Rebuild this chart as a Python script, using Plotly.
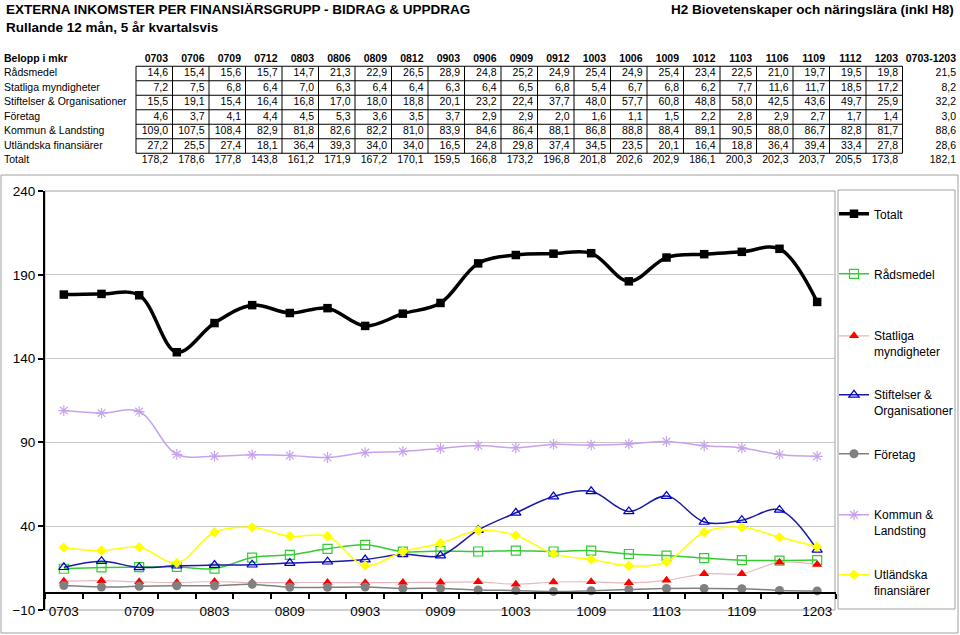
import plotly.graph_objects as go

# ---------------- data ----------------
periods = ["0703", "0706", "0709", "0712", "0803", "0806", "0809", "0812", "0903", "0906", "0909",
           "0912", "1003", "1006", "1009", "1012", "1103", "1106", "1109", "1112", "1203"]
period_total_label = "0703-1203"

radsmedel = [14.6, 15.4, 15.6, 15.7, 14.7, 21.3, 22.9, 26.5, 28.9, 24.8, 25.2, 24.9, 25.4, 24.9, 25.4, 23.4, 22.5, 21.0, 19.7, 19.5, 19.8]
statliga = [7.2, 7.5, 6.8, 6.4, 7.0, 6.3, 6.4, 6.4, 6.3, 6.4, 6.5, 6.8, 5.4, 6.7, 6.8, 6.2, 7.7, 11.6, 11.7, 18.5, 17.2]
stiftelser = [15.5, 19.1, 15.4, 16.4, 16.8, 17.0, 18.0, 18.8, 20.1, 23.2, 22.4, 37.7, 48.0, 57.7, 60.8, 48.8, 58.0, 42.5, 43.6, 49.7, 25.9]
foretag = [4.6, 3.7, 4.1, 4.4, 4.5, 5.3, 3.6, 3.5, 3.7, 2.9, 2.9, 2.0, 1.6, 1.1, 1.5, 2.2, 2.8, 2.9, 2.7, 1.7, 1.4]
kommun = [109.0, 107.5, 108.4, 82.9, 81.8, 82.6, 82.2, 81.0, 83.9, 84.6, 86.4, 88.1, 86.8, 88.8, 88.4, 89.1, 90.5, 88.0, 86.7, 82.8, 81.7]
utlandska = [27.2, 25.5, 27.4, 18.1, 36.4, 39.3, 34.0, 34.0, 16.5, 24.8, 29.8, 37.4, 34.5, 23.5, 20.1, 16.4, 18.8, 36.4, 39.4, 33.4, 27.8]
totalt = [178.2, 178.6, 177.8, 143.8, 161.2, 171.9, 167.2, 170.1, 159.5, 166.8, 173.2, 196.8, 201.8, 202.6, 202.9, 186.1, 200.3, 202.3, 203.7, 205.5, 173.8]

# averages over the whole period (last table column)
period_avg = [21.5, 8.2, 32.2, 3.0, 88.6, 28.6, 182.1]

row_names = ["Rådsmedel", "Statliga myndigheter", "Stiftelser & Organisationer", "Företag",
             "Kommun & Landsting", "Utländska finansiärer", "Totalt"]
legend_names = ["Totalt", "Rådsmedel", "Statliga<br>myndigheter", "Stiftelser &<br>Organisationer",
                "Företag", "Kommun &<br>Landsting", "Utländska<br>finansiärer"]

title_main = "EXTERNA INKOMSTER PER FINANSIÄRSGRUPP - BIDRAG & UPPDRAG"
title_sub = "Rullande 12 mån, 5 år kvartalsvis"
title_right = "H2 Biovetenskaper och näringslära (inkl H8)"
table_header_label = "Belopp i mkr"

# ---------------- layout helpers ----------------
W, H = 960, 635
FONT = "Liberation Sans, Arial, sans-serif"
INK = "#000000"


def px_x(p):
    return p / W


def px_y(p):
    return 1 - p / H


fmt = lambda v: f"{v:.1f}".replace(".", ",")

series = [radsmedel, statliga, stiftelser, foretag, kommun, utlandska, totalt]
n_per = len(periods)
n_rows = len(row_names)

fig = go.Figure()

# ---------------- table (text on helper axes x2/y2) ----------------
# helper x unit = one table column; helper y unit = one table row
COL_W, COL0 = 36.5, 136.0          # px width of a value column, px left edge of the boxed block
ROW_H, ROW0 = 14.5, 59.0           # px row height, px centre of header row
TBL_TOP, TBL_BOT = 40.0, 175.0
pad = 4.5 / COL_W
x_label = (4 - COL0) / COL_W - 0.5
x_last = (956 - COL0) / COL_W - 0.5
col_idx = list(range(n_per))
tfont = dict(family=FONT, size=10.5, color=INK)

common = dict(mode="text", xaxis="x2", yaxis="y2", showlegend=False, hoverinfo="skip",
              textfont=tfont, cliponaxis=False)
# header
fig.add_trace(go.Scatter(x=[x_label], y=[0], text=[f"<b>{table_header_label}</b>"],
                         textposition="middle right", **common))
fig.add_trace(go.Scatter(x=[j + 0.5 - pad for j in col_idx], y=[0] * n_per,
                         text=[f"<b>{p}</b>" for p in periods], textposition="middle left", **common))
fig.add_trace(go.Scatter(x=[x_last], y=[0], text=[f"<b>{period_total_label}</b>"],
                         textposition="middle left", **common))
# row labels
fig.add_trace(go.Scatter(x=[x_label] * n_rows, y=list(range(1, n_rows + 1)), text=row_names,
                         textposition="middle right", **common))
# values
for r, s in enumerate(series):
    fig.add_trace(go.Scatter(x=[j + 0.5 - pad for j in col_idx], y=[r + 1] * n_per,
                             text=[fmt(v) for v in s], textposition="middle left", **common))
fig.add_trace(go.Scatter(x=[x_last] * n_rows, y=list(range(1, n_rows + 1)),
                         text=[fmt(v) for v in period_avg], textposition="middle left", **common))

# cell grid (boxed block: value columns x data rows except Totalt)
for j in range(n_per + 1):
    fig.add_shape(type="line", xref="x2", yref="y2", x0=j - 0.5, x1=j - 0.5, y0=0.5, y1=n_rows - 0.5,
                  line=dict(color=INK, width=1))
for r in range(n_rows):
    fig.add_shape(type="line", xref="x2", yref="y2", x0=-0.5, x1=n_per - 0.5, y0=r + 0.5, y1=r + 0.5,
                  line=dict(color=INK, width=1))

# ---------------- line series ----------------
styles = {
    "Totalt": dict(series=totalt, line=dict(color="black", width=3.5),
                   marker=dict(symbol="square", size=8.5, color="black")),
    "Rådsmedel": dict(series=radsmedel, line=dict(color="#33CC33", width=1.5),
                      marker=dict(symbol="square-open", size=9, color="#33CC33", line=dict(width=1.2))),
    "Statliga": dict(series=statliga, line=dict(color="#E6B9B8", width=1.2),
                     marker=dict(symbol="triangle-up", size=9, color="#FF0000")),
    "Stiftelser": dict(series=stiftelser, line=dict(color="#1A1AA6", width=1.5),
                       marker=dict(symbol="triangle-up-open", size=9, color="#0000CC", line=dict(width=1.2))),
    "Företag": dict(series=foretag, line=dict(color="#808080", width=1.5),
                    marker=dict(symbol="circle", size=9, color="#808080")),
    "Kommun": dict(series=kommun, line=dict(color="#C8A2EE", width=1.5),
                   marker=dict(symbol="asterisk-open", size=9, color="#C8A2EE",
                               line=dict(width=1.2, color="#C8A2EE"))),
    "Utländska": dict(series=utlandska, line=dict(color="#FFFF00", width=1.5),
                      marker=dict(symbol="diamond", size=8, color="#FFFF00")),
}
order = ["Totalt", "Rådsmedel", "Statliga", "Stiftelser", "Företag", "Kommun", "Utländska"]
draw_order = ["Rådsmedel", "Statliga", "Stiftelser", "Företag", "Kommun", "Utländska", "Totalt"]

# legend entry first-line centres (px from top)
legend_first_line = [214, 274, 336, 395, 454, 515, 575]
legend_ids = ["legend"] + [f"legend{i}" for i in range(2, 8)]

for key in draw_order:
    i = order.index(key)
    st = styles[key]
    fig.add_trace(go.Scatter(
        x=periods, y=st["series"], name=legend_names[i],
        mode="lines+markers",
        line=dict(shape="spline", smoothing=1.0, **st["line"]),
        marker=st["marker"],
        legend=legend_ids[i],
        xaxis="x", yaxis="y",
    ))

# ---------------- layout ----------------
ydom = [px_y(610), px_y(191)]
yrange = [-10, 240]
x_axis_pos = ydom[0] + (0 - yrange[0]) / (yrange[1] - yrange[0]) * (ydom[1] - ydom[0])

layout = dict(
    template="none",
    width=W, height=H,
    margin=dict(l=0, r=0, t=0, b=0, pad=0),
    paper_bgcolor="white", plot_bgcolor="rgba(0,0,0,0)",
    font=dict(family=FONT, color=INK),
    xaxis=dict(domain=[px_x(45), px_x(836)], type="category", anchor="free", position=x_axis_pos,
               range=[-0.5, n_per - 0.5], automargin=False,
               tickmode="array", tickvals=periods,
               ticktext=[p if i % 2 == 0 else "" for i, p in enumerate(periods)],
               tickangle=0, ticklabelstandoff=6,
               tickson="boundaries", ticks="outside", ticklen=5, tickwidth=2, tickcolor=INK,
               showline=True, linewidth=2, linecolor=INK, showgrid=False, zeroline=False,
               tickfont=dict(size=13.5, family=FONT, color=INK)),
    yaxis=dict(domain=ydom, range=yrange, tick0=-10, dtick=50, anchor="x", automargin=False,
               showline=True, linewidth=2, linecolor=INK,
               ticks="outside", ticklen=5, tickwidth=2, tickcolor=INK,
               showgrid=True, gridcolor="#C8C8C8", gridwidth=1, zeroline=False,
               tickfont=dict(size=13.5, family=FONT, color=INK)),
    xaxis2=dict(domain=[0, 1], anchor="y2", visible=False, automargin=False, fixedrange=True,
                range=[-COL0 / COL_W - 0.5, (W - COL0) / COL_W - 0.5]),
    yaxis2=dict(domain=[px_y(TBL_BOT), px_y(TBL_TOP)], anchor="x2", visible=False, automargin=False,
                fixedrange=True,
                range=[(TBL_BOT - ROW0) / ROW_H, (TBL_TOP - ROW0) / ROW_H]),
    showlegend=True,
)

for i, lid in enumerate(legend_ids):
    layout[lid] = dict(x=px_x(834), xanchor="left", y=px_y(legend_first_line[i] - 14.5), yanchor="top",
                       bgcolor="rgba(0,0,0,0)", borderwidth=0, valign="top",
                       font=dict(family=FONT, size=12, color=INK))

fig.update_layout(**layout)

# borders
fig.add_shape(type="rect", xref="paper", yref="paper", x0=px_x(1), x1=px_x(958), y0=px_y(633), y1=px_y(175),
              line=dict(color="#A0A0A0", width=1), layer="below")
fig.add_shape(type="rect", xref="paper", yref="paper", x0=px_x(45), x1=px_x(835), y0=px_y(610), y1=px_y(191),
              line=dict(color="#A0A0A0", width=1), layer="below")
fig.add_shape(type="rect", xref="paper", yref="paper", x0=px_x(838), x1=px_x(955), y0=px_y(609), y1=px_y(190),
              line=dict(color="#A0A0A0", width=1), layer="below")

# titles
fig.add_annotation(text=f"<b>{title_main}</b>", xref="paper", yref="paper", x=px_x(4), y=px_y(9),
                   xanchor="left", yanchor="middle", showarrow=False, font=dict(size=13.5, family=FONT))
fig.add_annotation(text=f"<b>{title_sub}</b>", xref="paper", yref="paper", x=px_x(4), y=px_y(27),
                   xanchor="left", yanchor="middle", showarrow=False, font=dict(size=13.5, family=FONT))
fig.add_annotation(text=f"<b>{title_right}</b>", xref="paper", yref="paper", x=px_x(956), y=px_y(9),
                   xanchor="right", yanchor="middle", showarrow=False, font=dict(size=13.5, family=FONT))

fig.write_html("out.html", config={"displayModeBar": False},
               post_script="document.body.style.margin='0';document.body.style.overflow='hidden';")
